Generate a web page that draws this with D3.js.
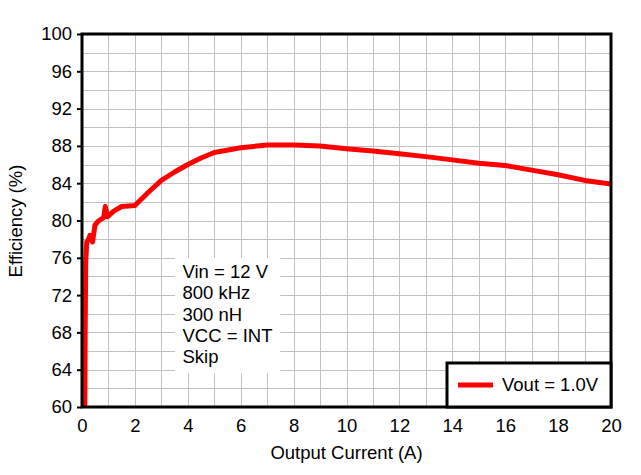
<!DOCTYPE html>
<html>
<head>
<meta charset="utf-8">
<script src="https://cdn.jsdelivr.net/npm/d3@7"></script>
<style>
  body { margin: 0; background: #fff; }
  svg { display: block; font-family: "Liberation Sans", Arial, sans-serif; }
</style>
</head>
<body>
<svg width="641" height="475"></svg>
<script>
// data
const current = [0.1, 0.11, 0.12, 0.14, 0.18, 0.25, 0.3, 0.4, 0.49, 0.6, 0.7, 0.82, 0.88, 0.96,
  1.2, 1.5, 2.0, 2.5, 3.0, 3.5, 4.0, 4.5, 5.0, 6, 7, 8, 9, 10, 11, 12, 13, 14, 15, 16, 17, 18, 19, 20];
const efficiency = [58, 62, 68, 75.5, 77.7, 78.0, 78.4, 77.7, 79.5, 79.9, 80.1, 80.3, 81.5, 80.4,
  81.0, 81.5, 81.6, 83.0, 84.3, 85.2, 86.0, 86.7, 87.3, 87.8, 88.1, 88.1, 88.0, 87.7, 87.45, 87.15,
  86.85, 86.5, 86.15, 85.9, 85.4, 84.9, 84.3, 83.9];
const xTicks = [0, 2, 4, 6, 8, 10, 12, 14, 16, 18, 20];
const yTicks = [60, 64, 68, 72, 76, 80, 84, 88, 92, 96, 100];
const noteLines = ["Vin = 12 V", "800 kHz", "300 nH", "VCC = INT", "Skip"];
const seriesName = "Vout = 1.0V";

const svg = d3.select("svg");
const plotL = 82, plotR = 611, plotT = 34, plotB = 407;
const fontSize = 18.5;

const x = d3.scaleLinear().domain([0, 20]).range([plotL, plotR]);
const y = d3.scaleLinear().domain([60, 100]).range([plotB, plotT]);

svg.append("rect").attr("width", 641).attr("height", 475).attr("fill", "#fff");

// ** GRID ** //
const grid = svg.append("g").attr("stroke", "#c0c0c0").attr("stroke-width", 1);
grid.selectAll("line.v")
  .data(d3.range(1, 20))
  .enter()
  .append("line")
  .attr("x1", d => Math.round(x(d)) + 0.5)
  .attr("x2", d => Math.round(x(d)) + 0.5)
  .attr("y1", plotT)
  .attr("y2", plotB);
grid.selectAll("line.h")
  .data(d3.range(62, 100, 2))
  .enter()
  .append("line")
  .attr("y1", d => Math.round(y(d)) + 0.5)
  .attr("y2", d => Math.round(y(d)) + 0.5)
  .attr("x1", plotL)
  .attr("x2", plotR);

// ** CURVE ** //
svg.append("clipPath").attr("id", "plot")
  .append("rect")
  .attr("x", plotL).attr("y", plotT)
  .attr("width", plotR - plotL).attr("height", plotB - plotT);

const line = d3.line().x(d => x(d[0])).y(d => y(d[1]));
svg.append("path")
  .datum(d3.zip(current, efficiency))
  .attr("clip-path", "url(#plot)")
  .attr("fill", "none")
  .attr("stroke", "#ff0000")
  .attr("stroke-width", 5)
  .attr("stroke-linejoin", "round")
  .attr("d", line);

// ** ANNOTATION ** //
svg.append("rect")
  .attr("x", 175).attr("y", 258)
  .attr("width", 105).attr("height", 115)
  .attr("fill", "#fff");
svg.append("g")
  .selectAll("text")
  .data(noteLines)
  .enter()
  .append("text")
  .attr("x", 182.5)
  .attr("y", (d, i) => 278 + i * 21.3)
  .attr("font-size", fontSize)
  .text(d => d);

// ** AXES ** //
const yAxis = d3.axisLeft(y).tickValues(yTicks).tickSize(5).tickPadding(5);
const xAxis = d3.axisBottom(x).tickValues(xTicks).tickSize(0).tickPadding(12);

const gy = svg.append("g").attr("transform", `translate(${plotL},0)`).call(yAxis);
const gx = svg.append("g").attr("transform", `translate(0,${plotB})`).call(xAxis);
[gx, gy].forEach(g => {
  g.select(".domain").remove();
  g.selectAll("line").attr("stroke", "#000").attr("stroke-width", 2);
  g.selectAll("text").attr("font-size", fontSize).attr("fill", "#000")
    .attr("font-family", "Liberation Sans, Arial, sans-serif");
});

// frame
svg.append("rect")
  .attr("x", plotL).attr("y", plotT)
  .attr("width", plotR - plotL).attr("height", plotB - plotT)
  .attr("fill", "none")
  .attr("stroke", "#000")
  .attr("stroke-width", 3);

// ** LEGEND ** //
const legend = svg.append("g");
legend.append("rect")
  .attr("x", 447).attr("y", 363)
  .attr("width", plotR - 447).attr("height", plotB - 363)
  .attr("fill", "#fff")
  .attr("stroke", "#000")
  .attr("stroke-width", 3);
legend.append("line")
  .attr("x1", 458).attr("x2", 493)
  .attr("y1", 385).attr("y2", 385)
  .attr("stroke", "#ff0000")
  .attr("stroke-width", 5);
legend.append("text")
  .attr("x", 502).attr("y", 391)
  .attr("font-size", fontSize)
  .text(seriesName);

// ** TITLES ** //
svg.append("text")
  .attr("x", (plotL + plotR) / 2)
  .attr("y", 459)
  .attr("text-anchor", "middle")
  .attr("font-size", fontSize)
  .text("Output Current (A)");
svg.append("text")
  .attr("transform", "translate(22,221) rotate(-90)")
  .attr("text-anchor", "middle")
  .attr("font-size", fontSize)
  .text("Efficiency (%)");
</script>
</body>
</html>
